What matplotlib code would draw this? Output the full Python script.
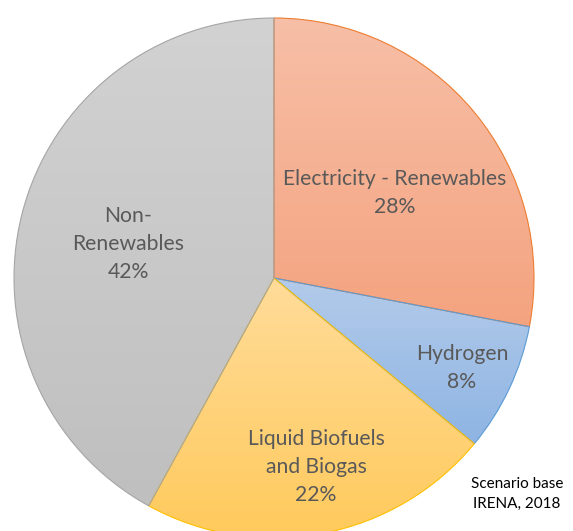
import numpy as np
import matplotlib
matplotlib.use("Agg")
import matplotlib.pyplot as plt
from matplotlib.colors import LinearSegmentedColormap

categories = ["Electricity - Renewables", "Hydrogen", "Liquid Biofuels\nand Biogas", "Non-\nRenewables"]
values = [28, 8, 22, 42]
top_colors = ["#F7BFA7", "#B3CBEA", "#FFDC9A", "#D2D2D2"]
bottom_colors = ["#F4A37F", "#8EB4E3", "#FFCA5C", "#BFBFBF"]
edge_colors = ["#ED7D31", "#5B9BD5", "#FFC000", "#A5A5A5"]
label_pos = [(395, 193), (462, 368), (316, 467), (128, 244)]

W, H = 573, 531
fig = plt.figure(figsize=(W / 100, H / 100), dpi=100)
ax = fig.add_axes([0, 0, 1, 1])

cx, cy, r = 274, H - 278, 260
wedges, _ = ax.pie(values, startangle=90, counterclock=False, center=(cx, cy), radius=r,
                   colors=top_colors, wedgeprops=dict(linewidth=0.8), frame=True)
ax.set_aspect("equal")
ax.axis("off")

for w, tc, bc, ec in zip(wedges, top_colors, bottom_colors, edge_colors):
    w.set_edgecolor(ec)
    w.set_facecolor("none")
    ext = w.get_path().get_extents()
    cmap = LinearSegmentedColormap.from_list("g", [bc, tc])
    grad = np.linspace(0, 1, 256).reshape(-1, 1)
    im = ax.imshow(grad, cmap=cmap, origin="lower", aspect="auto",
                   extent=(ext.x0, ext.x1, ext.y0, ext.y1), zorder=0.5)
    im.set_clip_path(w)

ax.set_xlim(0, W)
ax.set_ylim(0, H)

pcts = [f"{v}%" for v in values]
for cat, p, (x, y) in zip(categories, pcts, label_pos):
    ax.text(x, H - y, f"{cat}\n{p}", ha="center", va="center", fontsize=15.2,
            family="Lato", color="#595959", linespacing=1.5, zorder=3)

ax.text(517, H - 494, "Scenario base\nIRENA, 2018", ha="center", va="center",
        fontsize=11, family="Lato", color="#000000", linespacing=1.6, zorder=3)

fig.savefig("out.png", dpi=100)
